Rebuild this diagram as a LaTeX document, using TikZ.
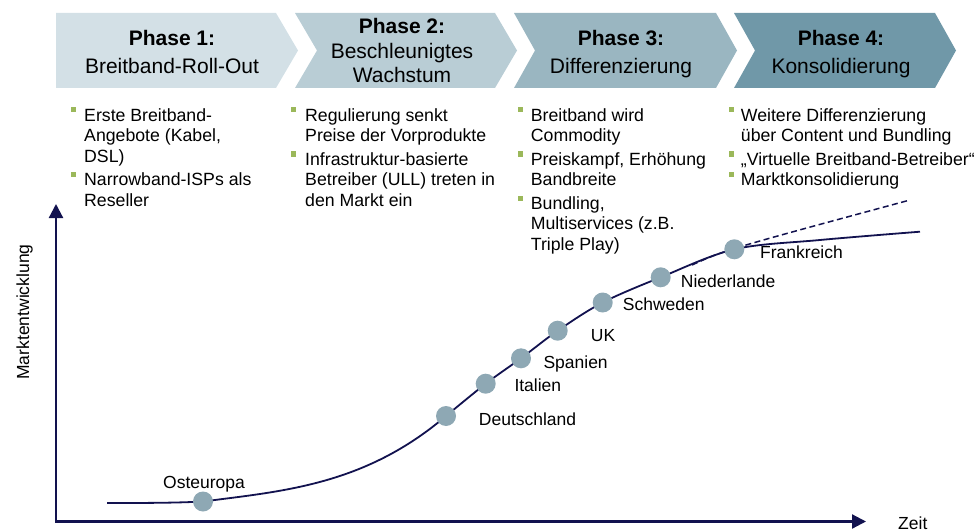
\documentclass[tikz,border=0pt]{standalone}
\usepackage{fontspec}
\setmainfont{Liberation Sans}
\usetikzlibrary{arrows.meta}
\definecolor{navy}{HTML}{12124F}
\definecolor{phaseA}{HTML}{D3E0E6}
\definecolor{phaseB}{HTML}{B9CDD5}
\definecolor{phaseC}{HTML}{9AB6C1}
\definecolor{phaseD}{HTML}{7098A8}
\definecolor{dotfill}{HTML}{8EA8B4}
\definecolor{bulletgreen}{HTML}{9BB85A}
\begin{document}
\begin{tikzpicture}[x=1pt,y=-1pt,
  hdbold/.style={anchor=base,inner sep=0,font=\fontsize{21}{25}\selectfont\bfseries},
  hdplain/.style={anchor=base,inner sep=0,font=\fontsize{21}{25}\selectfont},
  bsq/.style={fill=bulletgreen,minimum size=5pt,inner sep=0,draw=none},
  btext/.style={anchor=north west,inner sep=0,align=left,font=\fontsize{17.7}{20.5}\selectfont},
  lbl/.style={anchor=base west,inner sep=0,font=\fontsize{17.5}{20}\selectfont},
  dot/.style={circle,fill=dotfill,minimum size=20pt,inner sep=0,draw=none},
  axis/.style={draw=navy,line width=2.2pt,{Triangle[length=14pt,width=14pt]}-{Triangle[length=14pt,width=14pt]}},
  growth/.style={draw=navy,line width=1.8pt},
  trend/.style={draw=navy,line width=1.5pt,dash pattern=on 6pt off 3.5pt}]
\useasboundingbox (0,0) rectangle (977,532);

% phase chevrons
\fill[phaseA] (56,13) -- (276,13) -- (298,50.5) -- (276,88) -- (56,88) -- cycle;
\fill[phaseB] (295,13) -- (495,13) -- (517,50.5) -- (495,88) -- (295,88) -- (317,50.5) -- cycle;
\fill[phaseC] (514,13) -- (716,13) -- (737,50.5) -- (716,88) -- (514,88) -- (535,50.5) -- cycle;
\fill[phaseD] (734,13) -- (935,13) -- (956,50.5) -- (935,88) -- (734,88) -- (755,50.5) -- cycle;

% phase titles
\node[hdbold]  (p1a) at (172,45.7) {Phase 1:};
\node[hdplain] (p1b) at (172,74) {Breitband-Roll-Out};
\node[hdbold]  (p2a) at (402,33.5) {Phase 2:};
\node[hdplain] (p2b) at (402,58.5) {Beschleunigtes};
\node[hdplain] (p2c) at (402,83) {Wachstum};
\node[hdbold]  (p3a) at (621,45.7) {Phase 3:};
\node[hdplain] (p3b) at (621,74) {Differenzierung};
\node[hdbold]  (p4a) at (841,45.7) {Phase 4:};
\node[hdplain] (p4b) at (841,74) {Konsolidierung};

% bullet lists
\node[bsq] (q11) at (73.5,110) {};
\node[btext] (t11) at (84,106.65) {\strut Erste Breitband-\\Angebote (Kabel,\\DSL)};
\node[bsq] (q12) at (73.5,174.5) {};
\node[btext] (t12) at (84,171.15) {\strut Narrowband-ISPs als\\Reseller};

\node[bsq] (q21) at (293.5,110) {};
\node[btext] (t21) at (305,106.65) {\strut Regulierung senkt\\Preise der Vorprodukte};
\node[bsq] (q22) at (293.5,154) {};
\node[btext] (t22) at (305,150.65) {\strut Infrastruktur-basierte\\Betreiber (ULL) treten in\\den Markt ein};

\node[bsq] (q31) at (520.8,110) {};
\node[btext] (t31) at (530.7,106.65) {\strut Breitband wird\\Commodity};
\node[bsq] (q32) at (520.8,154) {};
\node[btext] (t32) at (530.7,150.65) {\strut Preiskampf, Erhöhung\\Bandbreite};
\node[bsq] (q33) at (520.8,198) {};
\node[btext] (t33) at (530.7,194.65) {\strut Bundling,\\Multiservices (z.B.\\Triple Play)};

\node[bsq] (q41) at (731.8,110) {};
\node[btext] (t41) at (740.7,106.65) {\strut Weitere Differenzierung\\über Content und Bundling};
\node[bsq] (q42) at (731.8,154) {};
\node[btext] (t42) at (740.7,150.65) {\strut „Virtuelle Breitband-Betreiber“};
\node[bsq] (q43) at (731.8,174.5) {};
\node[btext] (t43) at (740.7,171.15) {\strut Marktkonsolidierung};

% axes
\coordinate (ytop) at (56,204);
\coordinate (orig) at (56,521.5);
\coordinate (xend) at (866,521.5);
\draw[axis] (ytop) -- (orig) -- (xend);
\node[anchor=base,inner sep=0,rotate=90,font=\fontsize{17.5}{20}\selectfont] (ylab) at (29,312) {Marktentwicklung};
\node[lbl] (xlab) at (898,529) {Zeit};

% growth curve: flat start, then smooth rise through the markets
\coordinate (c0) at (107,503);
\coordinate (os) at (203,501.5);
\coordinate (de) at (446,416);
\coordinate (it) at (485.7,383.7);
\coordinate (sp) at (521,358.3);
\coordinate (uk) at (557.7,330.7);
\coordinate (sw) at (602.7,302.5);
\coordinate (nl) at (660.7,277.3);
\coordinate (fr) at (734.3,249.3);
\coordinate (c3) at (820,240);
\coordinate (c4) at (920,231.7);
\coordinate (k1) at (140,503);
\coordinate (k2) at (175,503);
\coordinate (k3) at (284,491);
\coordinate (k4) at (365,485);
\draw[growth] (c0) .. controls (k1) and (k2) .. (os) .. controls (k3) and (k4) .. (de);
\draw[growth] plot[smooth,tension=0.55] coordinates {(de) (it) (sp) (uk) (sw) (nl) (fr) (c3) (c4)};

% linear trend
\coordinate (ta) at (692,265);
\coordinate (tc) at (725,250);
\coordinate (tb) at (910,200);
\draw[trend] (ta) .. controls (tc) .. (tb);

% markets
\node[dot] (osN) at (os) {};
\node[dot] (deN) at (de) {};
\node[dot] (itN) at (it) {};
\node[dot] (spN) at (sp) {};
\node[dot] (ukN) at (uk) {};
\node[dot] (swN) at (sw) {};
\node[dot] (nlN) at (nl) {};
\node[dot] (frN) at (fr) {};

\node[lbl] (osL) at (163,488) {Osteuropa};
\node[lbl] (deL) at (478.7,425) {Deutschland};
\node[lbl] (itL) at (514.3,391.7) {Italien};
\node[lbl] (spL) at (543.3,368.3) {Spanien};
\node[lbl] (ukL) at (590.7,341.7) {UK};
\node[lbl] (swL) at (622.7,310) {Schweden};
\node[lbl] (nlL) at (680.7,287.3) {Niederlande};
\node[lbl] (frL) at (760,258.3) {Frankreich};
\end{tikzpicture}
\end{document}
